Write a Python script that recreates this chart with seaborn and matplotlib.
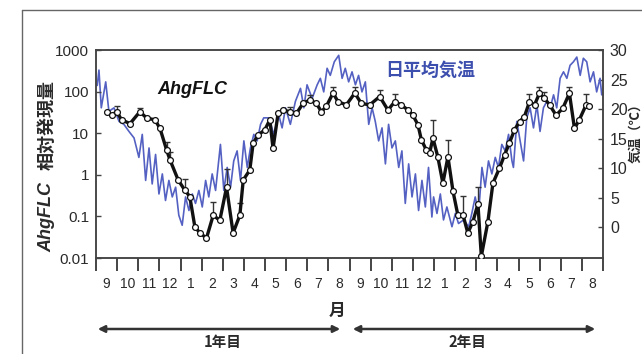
import numpy as np
import pandas as pd
import matplotlib
matplotlib.use("Agg")
import matplotlib.pyplot as plt
import seaborn as sns
from matplotlib.lines import Line2D

# ---------------- data ----------------
month_labels = ['9', '10', '11', '12', '1', '2', '3', '4', '5', '6', '7', '8'] * 2
year_labels = ['1年目', '2年目']

# AhgFLC relative expression (months since 1 Sep of year 1)
flc_month = [0.51, 0.74, 0.98, 1.21, 1.61, 2.08, 2.4, 2.79, 3.03, 3.34, 3.5, 3.89, 4.2, 4.44,
             4.68, 4.92, 5.23, 5.55, 5.86, 6.18, 6.49, 6.81, 6.97, 7.28, 7.44, 7.67, 7.99, 8.23,
             8.38, 8.62, 8.86, 9.17, 9.49, 9.8, 10.12, 10.43, 10.67, 10.9, 11.22, 11.46, 11.85,
             12.25, 12.56, 12.96, 13.43, 13.82, 14.14, 14.45, 14.77, 15.0, 15.24, 15.4, 15.63,
             15.79, 15.95, 16.18, 16.42, 16.66, 16.9, 17.13, 17.37, 17.6, 17.84, 18.08, 18.24,
             18.55, 18.79, 19.1, 19.34, 19.57, 19.81, 20.05, 20.28, 20.52, 20.76, 20.99, 21.23,
             21.47, 21.78, 22.1, 22.41, 22.65, 22.88, 23.2, 23.36]
flc_value = [33, 27, 33, 21, 17, 33, 23, 21, 13, 4, 2.3, 0.75, 0.43, 0.3,
             0.056, 0.04, 0.03, 0.107, 0.08, 0.5, 0.04, 0.107, 0.75, 1.3, 5.8, 9, 12, 21,
             4.3, 30, 36, 33, 30, 52, 63, 52, 33, 44, 92, 57, 48,
             92, 52, 48, 76, 36, 57, 48, 36, 27, 16, 7, 4,
             3.3, 7.6, 2.7, 0.63, 2.7, 0.4, 0.107, 0.11, 0.04, 0.074, 0.2, 0.011,
             0.074, 0.63, 1.45, 3, 5.8, 12, 19, 25, 57, 48, 91, 69,
             48, 27, 40, 91, 13, 21, 48, 44]
flc_err_up = [0, 0, 12, 0, 0, 8, 0, 0, 0, 2, 1.2, 0, 0.35, 0,
              0, 0, 0, 0.12, 0, 0.9, 0, 0.1, 0, 0, 0, 0, 0, 0,
              0, 0, 0, 10, 0, 0, 20, 0, 0, 0, 40, 0, 0,
              40, 0, 0, 35, 0, 30, 0, 0, 0, 0, 0, 0,
              0, 13, 0, 0, 4, 0, 0, 0.2, 0, 0, 0.3, 0,
              0, 0, 0, 0, 0, 0, 0, 0, 30, 0, 40, 30,
              0, 0, 0, 40, 0, 0, 40, 0]

# daily mean air temperature (deg C)
temp_month = [0.06, 0.14, 0.25, 0.46, 0.61, 0.85, 1.09, 1.32, 1.56, 1.80, 2.03, 2.19, 2.35, 2.51,
              2.66, 2.82, 2.98, 3.14, 3.29, 3.45, 3.61, 3.77, 3.92, 4.08, 4.24, 4.40, 4.56, 4.71,
              4.87, 5.03, 5.19, 5.34, 5.50, 5.66, 5.89, 6.05, 6.21, 6.37, 6.52, 6.68, 6.84, 7.00,
              7.16, 7.31, 7.47, 7.63, 7.79, 7.94, 8.18, 8.42, 8.65, 8.81, 8.97, 9.20, 9.44, 9.68,
              9.84, 9.99, 10.23, 10.47, 10.62, 10.78, 10.94, 11.09, 11.28, 11.49, 11.65, 11.80,
              11.96, 12.12, 12.28, 12.43, 12.59, 12.75, 12.91, 13.07, 13.22, 13.38, 13.54, 13.70,
              13.85, 14.01, 14.17, 14.33, 14.48, 14.64, 14.80, 14.96, 15.12, 15.27, 15.43, 15.59,
              15.74, 15.90, 15.98, 16.14, 16.30, 16.45, 16.61, 16.85, 17.01, 17.16, 17.40, 17.64,
              17.79, 17.95, 18.11, 18.27, 18.42, 18.58, 18.74, 18.90, 19.05, 19.21, 19.37, 19.53,
              19.69, 19.76, 19.92, 20.08, 20.24, 20.39, 20.55, 20.71, 20.87, 21.02, 21.18, 21.34,
              21.50, 21.66, 21.81, 21.97, 22.13, 22.29, 22.44, 22.60, 22.76, 22.92, 23.07, 23.23,
              23.39, 23.55, 23.70, 23.86, 23.94]
temp_value = [24, 26.6, 20.2, 24.6, 19.6, 20.2, 17.9, 17.4, 16.2, 15.1, 11.8, 15.7, 7.9, 13.4,
              7.3, 12.3, 5.6, 9.0, 4.5, 7.9, 5.1, 6.75, 2.0, 0.3, 5.1, 2.8, 5.6, 4.0,
              6.2, 3.4, 7.9, 5.1, 9.0, 6.2, 14.0, 6.2, 10.1, 6.75, 11.2, 12.9, 7.9, 14.6,
              10.1, 13.4, 15.7, 14.6, 17.4, 18.5, 18.5, 15.7, 19.0, 16.8, 20.2, 17.4, 21.3, 23.5,
              20.2, 24.1, 21.8, 24.1, 25.2, 22.9, 26.9, 25.7, 28.0, 29.1, 25.2, 26.9,
              24.6, 26.3, 24.1, 25.7, 22.9, 24.6, 17.4, 20.2, 17.9, 14.6, 16.8, 10.7,
              17.4, 13.4, 14.6, 10.1, 12.9, 4.0, 10.7, 5.1, 9.0, 2.8, 7.9, 3.4,
              10.1, 1.7, 5.1, 2.3, 5.6, 1.2, 3.4, 0.05, 2.3, 0.6, 1.2, 0.05,
              2.3, 5.1, 2.3, 10.1, 6.75, 11.2, 9.0, 11.8, 10.1, 14.0, 12.9, 15.7,
              11.2, 10.1, 17.9, 14.6, 11.2, 18.5, 20.2, 16.8, 20.7, 16.2, 20.2, 21.3,
              20.2, 22.4, 20.2, 25.2, 26.3, 25.2, 27.4, 28.0, 28.8, 25.7, 28.6, 28.0,
              24.6, 26.3, 22.9, 25.2, 22.4]

flc_df = pd.DataFrame({'month': flc_month, 'value': flc_value, 'err': flc_err_up})
temp_df = pd.DataFrame({'month': temp_month, 'temp': temp_value})

# ---------------- style ----------------
sns.set_style("ticks")
plt.rcParams['font.family'] = ['Liberation Sans', 'Noto Sans CJK JP', 'DejaVu Sans']
JP = ['Noto Sans CJK JP', 'DejaVu Sans']
TXT = '#2a2a2a'
BLUE_LINE = '#5461c2'
BLUE_TXT = '#3d4fae'

W, H = 642, 354
fig = plt.figure(figsize=(W / 100, H / 100), dpi=100)
fig.patch.set_facecolor('white')


def fx(px):
    return px / W


def fy(py):
    return 1 - py / H


ax = fig.add_axes([fx(96), fy(258), fx(603) - fx(96), fy(50) - fy(258)])
ax2 = ax.twinx()

# temperature (right axis)
sns.lineplot(data=temp_df, x='month', y='temp', ax=ax2, color=BLUE_LINE, lw=1.2,
             estimator=None, sort=False)
ax2.set_ylim(-5.25, 30)
ax2.set_yticks(np.arange(0, 31, 5))
ax2.set_ylabel('')

# expression (left axis, log)
ax.set_zorder(ax2.get_zorder() + 1)
ax.patch.set_visible(False)
ax.errorbar(flc_df['month'], flc_df['value'],
            yerr=[np.zeros(len(flc_df)), flc_df['err']],
            fmt='none', ecolor='#333333', elinewidth=1.0, capsize=2.5, capthick=1.0, zorder=3)
sns.lineplot(data=flc_df, x='month', y='value', ax=ax, color='#111111', lw=2.4,
             marker='o', markersize=4.2, markerfacecolor='white', markeredgecolor='#111111',
             markeredgewidth=0.9, estimator=None, sort=False, zorder=4)
ax.set_yscale('log')
ax.set_ylim(0.01, 1000)
ax.set_yticks([0.01, 0.1, 1, 10, 100, 1000])
ax.set_yticklabels(['0.01', '0.1', '1', '10', '100', '1000'])
ax.minorticks_off()
ax.set_xlim(0, 24)
ax.set_xticks(np.arange(25))
ax.set_xticklabels([''] * 25)
ax.set_xticks(np.arange(24) + 0.5, minor=True)
ax.set_xticklabels(month_labels, minor=True)
ax.set_xlabel('')
ax.set_ylabel('')

for a in (ax, ax2):
    for s in a.spines.values():
        s.set_color('#444444')
        s.set_linewidth(1.1)
        s.set_visible(True)

ax.tick_params(axis='x', which='major', direction='out', length=9.5, width=1.4, color='#444444')
ax.tick_params(axis='x', which='minor', length=0, pad=14, labelsize=10, labelcolor=TXT)
ax.tick_params(axis='y', which='major', direction='in', length=3.5, width=1.0, color='#444444',
               pad=5, labelsize=11, labelcolor=TXT)
ax2.tick_params(axis='y', which='major', direction='in', length=3.5, width=1.0, color='#444444',
                pad=5, labelsize=11.5, labelcolor=TXT)

# in-plot labels
fig.text(fx(192), fy(90), 'AhgFLC', fontsize=13, fontweight='bold', fontstyle='italic',
         color='#111111', ha='center', va='center')
fig.text(fx(430), fy(70), '日平均気温', fontsize=13, fontweight='bold', color=BLUE_TXT,
         ha='center', va='center', family=JP)

# axis labels
fig.text(fx(47), fy(217), 'AhgFLC', fontsize=13, fontweight='bold', fontstyle='italic',
         color=TXT, rotation=90, ha='center', va='center')
fig.text(fx(47), fy(125), '相対発現量', fontsize=13, fontweight='bold', color=TXT,
         rotation=90, ha='center', va='center', family=JP)
fig.text(fx(635), fy(130), '気温（℃）', fontsize=9.5, fontweight='bold', color=TXT,
         rotation=90, ha='center', va='center', family=JP)
fig.text(fx(337), fy(311), '月', fontsize=12, fontweight='bold', color=TXT,
         ha='center', va='center', family=JP)

# year arrows
for (x0, x1, xt), lab in zip([(95, 343, 223), (350, 598, 467)], year_labels):
    fig.add_artist(matplotlib.patches.FancyArrowPatch(
        (fx(x0), fy(329)), (fx(x1), fy(329)), transform=fig.transFigure,
        arrowstyle='<|-|>', mutation_scale=10, lw=1.8, color='#333333'))
    fig.text(fx(xt), fy(342), lab, fontsize=10.5, fontweight='bold', color=TXT,
             ha='center', va='center', family=JP)

# outer panel frame
fig.add_artist(Line2D([fx(22), fx(22)], [fy(10), 0], transform=fig.transFigure,
                      color='#666666', lw=1.0))
fig.add_artist(Line2D([fx(22), 1], [fy(10), fy(10)], transform=fig.transFigure,
                      color='#666666', lw=1.0))

fig.savefig('out.png', dpi=100, facecolor='white')
